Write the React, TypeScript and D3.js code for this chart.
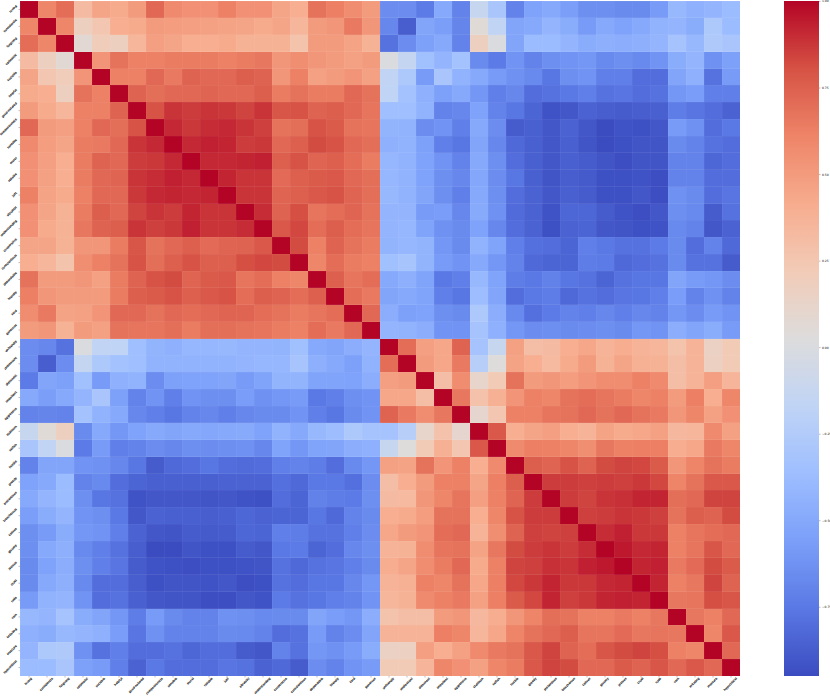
import React, { useEffect, useRef } from 'react';
import * as d3 from 'd3';

// tick text is too small to read in the picture, words picked to match the label lengths
const traitsA = ['loving', 'considerate', 'forgiving', 'optimistic', 'sociable', 'helpful', 'good-natured', 'compassionate', 'sensible', 'moral', 'reliable', 'just', 'altruistic', 'understanding', 'cooperative', 'conscientious', 'dependable', 'friendly', 'kind', 'generous'];
const traitsB = ['unfriendly', 'unpleasant', 'dishonest', 'impatient', 'aggressive', 'stubborn', 'selfish', 'hostile', 'greedy', 'pretentious', 'treacherous', 'callous', 'gloomy', 'jealous', 'cruel', 'rude', 'vain', 'irritating', 'insecure', 'hypocritical'];
const labels = [...traitsA, ...traitsB];

// upper triangle of the first group, each row starts right after the diagonal
const blockA = [
  [.60, .70, .32, .45, .42, .50, .72, .58, .55, .55, .62, .55, .55, .45, .40, .68, .63, .57, .50],
  [.60, .17, .25, .40, .42, .50, .49, .48, .47, .46, .45, .42, .45, .35, .50, .52, .65, .52],
  [.07, .20, .17, .35, .48, .45, .40, .40, .42, .38, .38, .38, .27, .50, .50, .46, .38],
  [.53, .68, .62, .62, .64, .64, .64, .62, .64, .66, .52, .56, .52, .50, .47, .50],
  [.62, .62, .72, .65, .74, .72, .72, .76, .74, .52, .62, .47, .50, .53, .47],
  [.74, .69, .72, .72, .73, .72, .72, .76, .64, .68, .64, .64, .72, .68],
  [.80, .88, .86, .88, .87, .84, .88, .79, .80, .74, .76, .72, .67],
  [.91, .87, .90, .91, .88, .85, .68, .69, .80, .77, .68, .67],
  [.91, .93, .92, .86, .87, .72, .75, .82, .80, .72, .69],
  [.91, .91, .92, .93, .75, .80, .73, .75, .70, .64],
  [.92, .88, .88, .71, .75, .77, .78, .72, .69],
  [.88, .88, .73, .75, .78, .80, .73, .69],
  [.90, .74, .81, .67, .70, .73, .68],
  [.78, .83, .70, .76, .70, .67],
  [.82, .62, .74, .68, .64],
  [.60, .70, .64, .62],
  [.75, .67, .70],
  [.70, .65],
  [.72],
];

// upper triangle of the second group
const blockB = [
  [.70, .48, .44, .74, -.32, -.12, .47, .30, .32, .40, .44, .37, .41, .37, .35, .27, .37, .15, .22],
  [.50, .44, .65, -.22, .03, .46, .40, .33, .42, .50, .38, .45, .39, .38, .30, .37, .16, .22],
  [.30, .57, .12, .22, .68, .50, .52, .49, .53, .57, .57, .62, .58, .30, .37, .48, .36],
  [.66, .28, .39, .53, .62, .60, .68, .70, .67, .64, .60, .62, .50, .63, .40, .60],
  [.10, .25, .62, .62, .67, .68, .72, .68, .72, .68, .65, .52, .60, .47, .55],
  [.78, .40, .45, .48, .40, .37, .46, .42, .44, .47, .34, .35, .58, .47],
  [.58, .63, .62, .60, .56, .66, .62, .63, .63, .41, .44, .65, .60],
  [.76, .73, .80, .74, .82, .84, .83, .77, .52, .61, .68, .64],
  [.86, .86, .85, .86, .85, .87, .83, .61, .68, .78, .78],
  [.86, .84, .88, .89, .92, .92, .69, .72, .84, .84],
  [.85, .86, .88, .87, .85, .68, .76, .74, .82],
  [.90, .93, .87, .87, .62, .67, .70, .72],
  [.95, .91, .92, .62, .67, .79, .72],
  [.92, .93, .65, .71, .82, .77],
  [.92, .62, .66, .84, .74],
  [.66, .67, .81, .79],
  [.66, .62, .72],
  [.60, .78],
  [.72],
];

// traitsA rows against traitsB columns
const crossBlock = [
  [-.65, -.65, -.74, -.50, -.70, -.12, -.30, -.70, -.54, -.50, -.56, -.64, -.64, -.66, -.66, -.58, -.40, -.45, -.42, -.38],
  [-.68, -.87, -.52, -.56, -.69, .05, -.16, -.52, -.50, -.42, -.48, -.58, -.50, -.54, -.50, -.44, -.42, -.48, -.28, -.38],
  [-.78, -.65, -.55, -.50, -.70, .17, .00, -.52, -.38, -.38, -.42, -.48, -.46, -.47, -.46, -.42, -.32, -.40, -.27, -.30],
  [.00, -.14, -.35, -.42, -.33, -.66, -.74, -.62, -.70, -.64, -.62, -.60, -.67, -.64, -.67, -.62, -.48, -.42, -.63, -.55],
  [-.16, -.28, -.58, -.30, -.44, -.50, -.58, -.63, -.67, -.76, -.64, -.62, -.72, -.72, -.80, -.80, -.52, -.45, -.78, -.58],
  [-.17, -.33, -.45, -.55, -.50, -.60, -.72, -.68, -.80, -.78, -.75, -.72, -.78, -.77, -.80, -.78, -.60, -.57, -.72, -.72],
  [-.36, -.36, -.44, -.70, -.68, -.54, -.70, -.76, -.84, -.92, -.90, -.85, -.87, -.88, -.87, -.86, -.73, -.77, -.80, -.85],
  [-.43, -.44, -.65, -.62, -.72, -.50, -.65, -.88, -.86, -.90, -.85, -.90, -.95, -.92, -.93, -.90, -.58, -.63, -.80, -.75],
  [-.45, -.44, -.55, -.72, -.76, -.52, -.68, -.82, -.86, -.90, -.86, -.91, -.95, -.93, -.91, -.91, -.66, -.70, -.78, -.80],
  [-.41, -.44, -.54, -.62, -.70, -.50, -.64, -.80, -.86, -.90, -.86, -.88, -.91, -.94, -.91, -.91, -.70, -.70, -.83, -.80],
  [-.41, -.44, -.54, -.64, -.68, -.51, -.65, -.76, -.86, -.91, -.87, -.89, -.93, -.93, -.92, -.94, -.70, -.70, -.80, -.80],
  [-.40, -.44, -.52, -.64, -.72, -.50, -.64, -.80, -.85, -.90, -.86, -.88, -.93, -.93, -.90, -.94, -.63, -.66, -.80, -.77],
  [-.42, -.42, -.58, -.57, -.68, -.49, -.63, -.81, -.85, -.92, -.83, -.83, -.88, -.92, -.94, -.90, -.64, -.67, -.88, -.78],
  [-.42, -.41, -.53, -.63, -.66, -.54, -.68, -.80, -.85, -.93, -.85, -.84, -.90, -.91, -.93, -.92, -.67, -.70, -.90, -.85],
  [-.43, -.41, -.43, -.60, -.66, -.44, -.53, -.72, -.79, -.80, -.84, -.72, -.75, -.78, -.78, -.74, -.66, -.80, -.70, -.82],
  [-.35, -.31, -.43, -.58, -.62, -.50, -.60, -.70, -.82, -.84, -.84, -.73, -.74, -.82, -.80, -.78, -.66, -.78, -.78, -.88],
  [-.50, -.46, -.53, -.75, -.72, -.40, -.53, -.73, -.75, -.71, -.76, -.78, -.84, -.78, -.76, -.76, -.52, -.58, -.60, -.65],
  [-.52, -.50, -.53, -.72, -.76, -.37, -.52, -.80, -.75, -.73, -.82, -.78, -.80, -.77, -.76, -.72, -.57, -.70, -.63, -.70],
  [-.47, -.55, -.54, -.64, -.66, -.28, -.47, -.67, -.79, -.74, -.70, -.72, -.68, -.72, -.68, -.70, -.60, -.65, -.58, -.62],
  [-.42, -.44, -.47, -.62, -.62, -.32, -.45, -.60, -.65, -.64, -.66, -.65, -.64, -.66, -.60, -.62, -.47, -.52, -.48, -.58],
];

const coolwarm = ['#3b4cc0', '#5a78e4', '#7b9ff9', '#9ebeff', '#c0d4f5', '#dddcdc', '#f2cbb7', '#f7ac8e', '#ee8468', '#d65244', '#b40426'];
const vmin = -0.95;
const vmax = 1;
const cbarTicks = [1, 0.75, 0.5, 0.25, 0, -0.25, -0.5, -0.75];

const n = labels.length;

// put the three blocks together into the full symmetric matrix
const buildMatrix = () => {
  const m: number[][] = d3.range(n).map(() => d3.range(n).map(() => 1));
  const half = traitsA.length;
  const set = (i: number, j: number, v: number) => {
    m[i][j] = v;
    m[j][i] = v;
  };
  blockA.forEach((row, i) => row.forEach((v, k) => set(i, i + 1 + k, v)));
  blockB.forEach((row, i) => row.forEach((v, k) => set(half + i, half + i + 1 + k, v)));
  crossBlock.forEach((row, i) => row.forEach((v, k) => set(i, half + k, v)));
  return m;
};

const App = () => {
  const ref = useRef<SVGSVGElement>(null);

  useEffect(() => {
    const svg = d3.select(ref.current);
    svg.selectAll('*').remove();

    const left = 20;
    const right = 740;
    const top = 1;
    const bottom = 676;
    const labelSize = 3;

    const x = d3.scaleBand().domain(labels).range([left, right]);
    const y = d3.scaleBand().domain(labels).range([top, bottom]);
    const t = d3.scaleLinear().domain([vmin, vmax]).range([0, 1]);
    const ramp = d3.scaleLinear<string>()
      .domain(coolwarm.map((c, i) => i / (coolwarm.length - 1)))
      .range(coolwarm)
      .interpolate(d3.interpolateRgb as any);
    const color = (v: number) => ramp(t(v));

    const matrix = buildMatrix();
    const cells = matrix.flatMap((row, i) => row.map((v, j) => ({ r: labels[i], c: labels[j], v })));

    svg.append('g')
      .attr('shape-rendering', 'crispEdges')
      .selectAll('rect')
      .data(cells)
      .join('rect')
      .attr('x', (d) => x(d.c) as number)
      .attr('y', (d) => y(d.r) as number)
      .attr('width', x.bandwidth())
      .attr('height', y.bandwidth())
      .attr('fill', (d) => color(d.v))
      .attr('stroke', '#fff')
      .attr('stroke-opacity', 0.08)
      .attr('stroke-width', 0.5);

    // axes
    const xAxis = svg.append('g')
      .attr('transform', `translate(0,${bottom})`)
      .call(d3.axisBottom(x).tickSize(1.5));
    const yAxis = svg.append('g')
      .attr('transform', `translate(${left},0)`)
      .call(d3.axisLeft(y).tickSize(1.5));

    [xAxis, yAxis].forEach((a) => {
      a.select('.domain').remove();
      a.selectAll('.tick line').attr('stroke', '#555').attr('stroke-width', 0.4);
      a.selectAll('.tick text')
        .attr('font-family', 'DejaVu Sans')
        .attr('font-size', labelSize)
        .attr('fill', '#000')
        .attr('stroke', '#000')
        .attr('stroke-width', 0.12)
        .attr('text-anchor', 'middle')
        .attr('dy', 0);
    });

    // rotated labels are placed by their bounding box, like matplotlib does
    const diag = Math.SQRT1_2;
    xAxis.selectAll<SVGTextElement, string>('.tick text').each(function () {
      const w = this.getComputedTextLength() * diag;
      const py = 2.7 + w / 2;
      d3.select(this).attr('x', 0).attr('y', py).attr('transform', `rotate(-45 0 ${py})`);
    });
    yAxis.selectAll<SVGTextElement, string>('.tick text').each(function () {
      const w = this.getComputedTextLength() * diag;
      const px = -3 - w / 2;
      d3.select(this).attr('x', px).attr('y', 0).attr('transform', `rotate(-45 ${px} 0)`);
    });

    // colorbar
    const cbLeft = 784;
    const cbRight = 819;
    const cbScale = d3.scaleLinear().domain([vmin, vmax]).range([bottom, top]);
    const grad = svg.append('defs')
      .append('linearGradient')
      .attr('id', 'cbar')
      .attr('x1', 0)
      .attr('x2', 0)
      .attr('y1', 1)
      .attr('y2', 0);
    coolwarm.forEach((c, i) => {
      grad.append('stop').attr('offset', i / (coolwarm.length - 1)).attr('stop-color', c);
    });
    svg.append('rect')
      .attr('x', cbLeft)
      .attr('y', top)
      .attr('width', cbRight - cbLeft)
      .attr('height', bottom - top)
      .attr('fill', 'url(#cbar)');

    const cbAxis = svg.append('g')
      .attr('transform', `translate(${cbRight},0)`)
      .call(d3.axisRight(cbScale).tickValues(cbarTicks).tickFormat(d3.format('.2f') as any).tickSize(1.5).tickPadding(1.5));
    cbAxis.select('.domain').remove();
    cbAxis.selectAll('.tick line').attr('stroke', '#555').attr('stroke-width', 0.4);
    cbAxis.selectAll('.tick text')
      .attr('font-family', 'DejaVu Sans')
      .attr('font-size', labelSize)
      .attr('fill', '#000');
  }, []);

  return (
    <svg
      ref={ref}
      width={830}
      height={696}
      style={{ position: 'absolute', left: 0, top: 0, background: '#fff' }}
    />
  );
};

export default App;
